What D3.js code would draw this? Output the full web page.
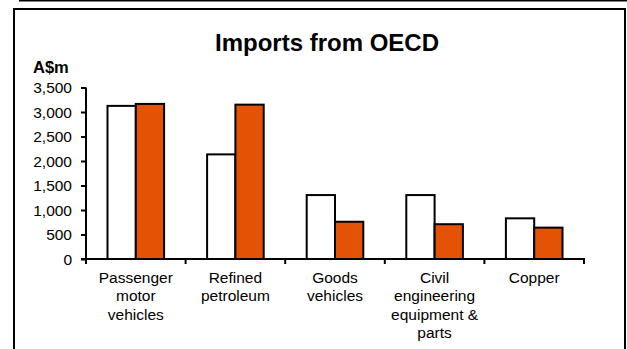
<!DOCTYPE html>
<html><head><meta charset="utf-8">
<script src="https://cdn.jsdelivr.net/npm/d3@7"></script>
<style>body{margin:0;background:#fff}svg{display:block}text{font-family:"Liberation Sans",Arial,sans-serif;fill:#000}</style>
</head><body><svg id="c" width="627" height="349"></svg>
<script>
const categories = [["Passenger","motor","vehicles"],["Refined","petroleum"],["Goods","vehicles"],["Civil","engineering","equipment &","parts"],["Copper"]];
const seriesA = [3125, 2135, 1305, 1305, 830];
const seriesB = [3165, 3150, 760, 710, 640];
const yTicks = [0,500,1000,1500,2000,2500,3000,3500];
const title = "Imports from OECD";
const yUnit = "A$m";

const svg = d3.select("#c");
// outer frame pieces
svg.append("line").attr("x1",19).attr("x2",627).attr("y1",0.5).attr("y2",0.5).attr("stroke","#000").attr("stroke-width",2);
svg.append("rect").attr("x",14).attr("y",9).attr("width",611).attr("height",360).attr("fill","none").attr("stroke","#000").attr("stroke-width",2);

const x0 = 86, x1 = 584, yBase = 259, yTop = 87.5;
const keys = categories.map((d,i)=>i);
const x = d3.scaleBand().domain(keys).range([x0,x1]);
const inner = d3.scaleBand().domain([0,1]).range([0, 56.6]);
const y = d3.scaleLinear().domain([0,3500]).range([yBase,yTop]);

svg.append("text").attr("x",327).attr("y",50.5).attr("text-anchor","middle").attr("font-weight","bold").attr("font-size",24).text(title);
svg.append("text").attr("x",33).attr("y",73).attr("font-weight","bold").attr("font-size",16.5).text(yUnit);

// bars
const g = svg.append("g");
const series = [{vals:seriesA, fill:"#ffffff"},{vals:seriesB, fill:"#E35205"}];
series.forEach((s,si)=>{
  g.selectAll(null).data(s.vals).enter().append("rect")
    .attr("x",(d,i)=>x(i)+(x.bandwidth()-56.6)/2+inner(si))
    .attr("y",d=>y(d))
    .attr("width",inner.bandwidth())
    .attr("height",d=>yBase-y(d))
    .attr("fill",s.fill).attr("stroke","#000").attr("stroke-width",2);
});

// y axis
const ya = svg.append("g").attr("transform",`translate(${x0},0)`)
  .call(d3.axisLeft(y).tickValues(yTicks).tickSize(5).tickPadding(9).tickFormat(d3.format(",")));
ya.select(".domain").attr("stroke","#000").attr("stroke-width",2).attr("d",`M0,${yTop}V${yBase}`);
ya.selectAll(".tick line").attr("stroke","#000").attr("stroke-width",2);
ya.selectAll(".tick text").attr("font-size",15.5).attr("font-family","Liberation Sans, Arial, sans-serif").attr("fill","#000").attr("dy","0.35em");

// x axis
const xa = svg.append("g").attr("transform",`translate(0,${yBase})`);
xa.append("line").attr("x1",x0-5).attr("x2",x1+1).attr("stroke","#000").attr("stroke-width",2);
const bounds = keys.map(k=>x(k)).concat([x1]);
xa.selectAll("line.t").data(bounds).enter().append("line").attr("class","t")
  .attr("x1",d=>d).attr("x2",d=>d).attr("y1",0).attr("y2",5).attr("stroke","#000").attr("stroke-width",2);
categories.forEach((lines,i)=>{
  const t = xa.append("text").attr("text-anchor","middle").attr("font-size",15.5);
  lines.forEach((ln,j)=>{
    t.append("tspan").attr("x",x(i)+x.bandwidth()/2).attr("y",23.5+j*18.5).text(ln);
  });
});
</script></body></html>
